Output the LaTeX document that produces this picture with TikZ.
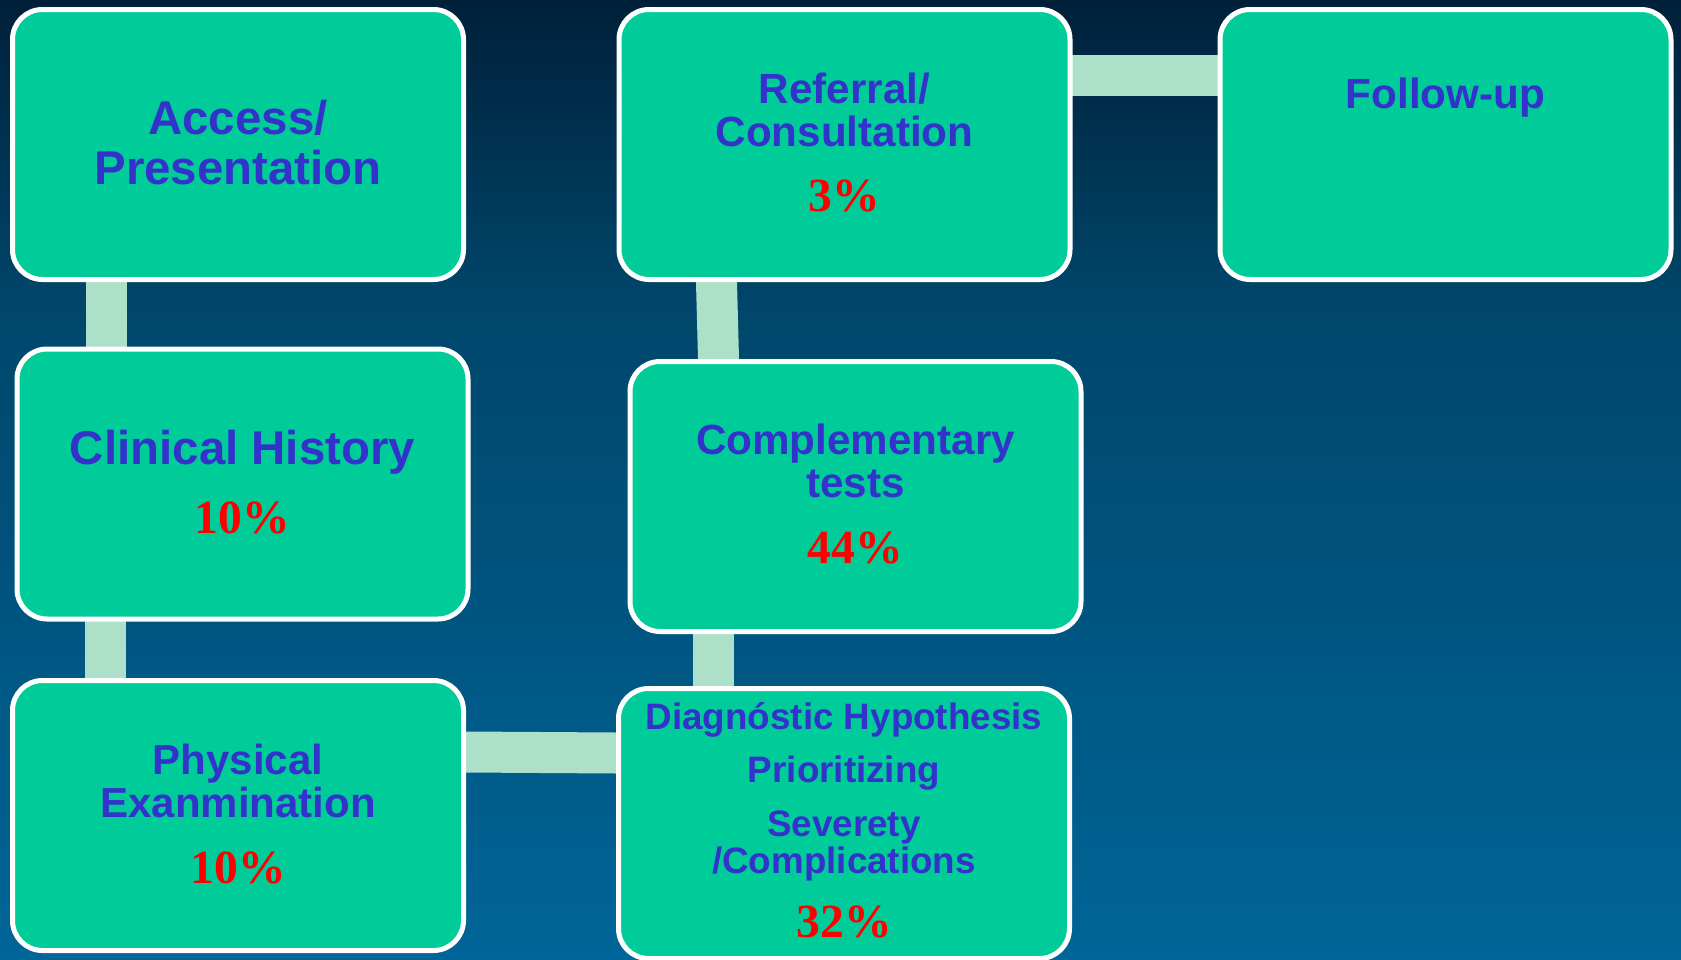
\documentclass[tikz,border=0pt]{standalone}
\usepackage{fontspec}
\usetikzlibrary{calc}
\newfontfamily\sansb{Liberation Sans}
\newfontfamily\serifb{Liberation Serif}
\definecolor{boxfill}{HTML}{00CC99}
\definecolor{stepblue}{HTML}{3333CC}
\definecolor{pctred}{HTML}{FF0000}
\definecolor{linkmint}{HTML}{ADE0C9}
\definecolor{bgtop}{HTML}{00203A}
\definecolor{bgupper}{HTML}{00466A}
\definecolor{bgbot}{HTML}{006598}
\pgfdeclarelayer{backdrop}
\pgfdeclarelayer{links}
\pgfsetlayers{backdrop,links,main}
\begin{document}
\begin{tikzpicture}[x=0.5pt,y=-0.5pt,
  stepbox/.style={draw=white, line width=2.5pt, fill=boxfill, rounded corners=15pt,
    minimum width=225.5pt, minimum height=135pt, inner sep=0pt, outer sep=0pt},
  steptext/.style={anchor=base, inner sep=0pt, text=stepblue,
    font=\sansb\bfseries\fontsize{#1}{#1}\selectfont},
  pct/.style={anchor=base, inner sep=0pt, text=pctred,
    font=\serifb\bfseries\fontsize{23.8}{23.8}\selectfont},
  link/.style={draw=linkmint, line width=20.5pt}]
\useasboundingbox (0,0) rectangle (1681,959);

% backdrop gradient
\begin{pgfonlayer}{backdrop}
  \shade[top color=bgtop, bottom color=bgupper] (0,0) rectangle (1681,301);
  \shade[top color=bgupper, bottom color=bgbot] (0,300) rectangle (1681,959);
\end{pgfonlayer}

% process steps
\node[stepbox] (acc) at (238,144.5) {};
\node[stepbox] (cli) at (242.5,484) {};
\node[stepbox] (phy) at (238,815.5) {};
\node[stepbox] (dia) at (844,823.5) {};
\node[stepbox] (com) at (855.5,496.5) {};
\node[stepbox] (ref) at (844.5,144.5) {};
\node[stepbox] (fol) at (1445.5,144.5) {};

% step labels
\node[steptext=23.7] (accA) at ($(acc.center)+(0,-10.5)$) {Access/};
\node[steptext=23.7] (accB) at ($(acc.center)+(0,39.5)$) {Presentation};

\node[steptext=23.7] (cliA) at ($(cli.center)+(0,-20)$) {Clinical History};
\node[pct] (cliP) at ($(cli.center)+(0,49)$) {10\%};

\node[steptext=21] (phyA) at ($(phy.center)+(0,-41.5)$) {Physical};
\node[steptext=21] (phyB) at ($(phy.center)+(0,1.8)$) {Exanmination};
\node[pct] (phyP) at ($(phy.center)+(0,67.8)$) {10\%};

\node[steptext=18.4] (diaA) at ($(dia.center)+(0,-94.2)$) {Diagnóstic Hypothesis};
\node[steptext=18.4] (diaB) at ($(dia.center)+(0,-40.8)$) {Prioritizing};
\node[steptext=18.4] (diaC) at ($(dia.center)+(0,13.2)$) {Severety};
\node[steptext=18.4] (diaD) at ($(dia.center)+(0,49.8)$) {/Complications};
\node[pct] (diaP) at ($(dia.center)+(0,114.2)$) {32\%};

\node[steptext=21.1] (comA) at ($(com.center)+(0,-42.5)$) {Complementary};
\node[steptext=21.1] (comB) at ($(com.center)+(0,0.8)$) {tests};
\node[pct] (comP) at ($(com.center)+(0,66.8)$) {44\%};

\node[steptext=21.1] (refA) at ($(ref.center)+(0,-41.2)$) {Referral/};
\node[steptext=21.1] (refB) at ($(ref.center)+(0,2.2)$) {Consultation};
\node[pct] (refP) at ($(ref.center)+(0,67.2)$) {3\%};

\node[steptext=21.1] (folA) at ($(fol.center)+(0,-36)$) {Follow-up};

% connecting bars, tucked under the boxes
\begin{pgfonlayer}{links}
  \draw[link] ($(acc.center)+(-132,0)$) -- ($(cli.center)+(-136.5,0)$);
  \draw[link] ($(cli.center)+(-137,0)$) -- ($(phy.center)+(-132.5,0)$);
  \draw[link] ($(phy.center)+(0,-65)$) -- ($(dia.center)+(0,-69)$);
  \draw[link] ($(dia.center)+(-130.5,0)$) -- ($(com.center)+(-142,0)$);
  \draw[link] ($(com.center)+(-133.4,0)$) -- ($(ref.center)+(-131.6,0)$);
  \draw[link] ($(ref.center)+(0,-69)$) -- ($(fol.center)+(0,-69)$);
\end{pgfonlayer}
\end{tikzpicture}
\end{document}
